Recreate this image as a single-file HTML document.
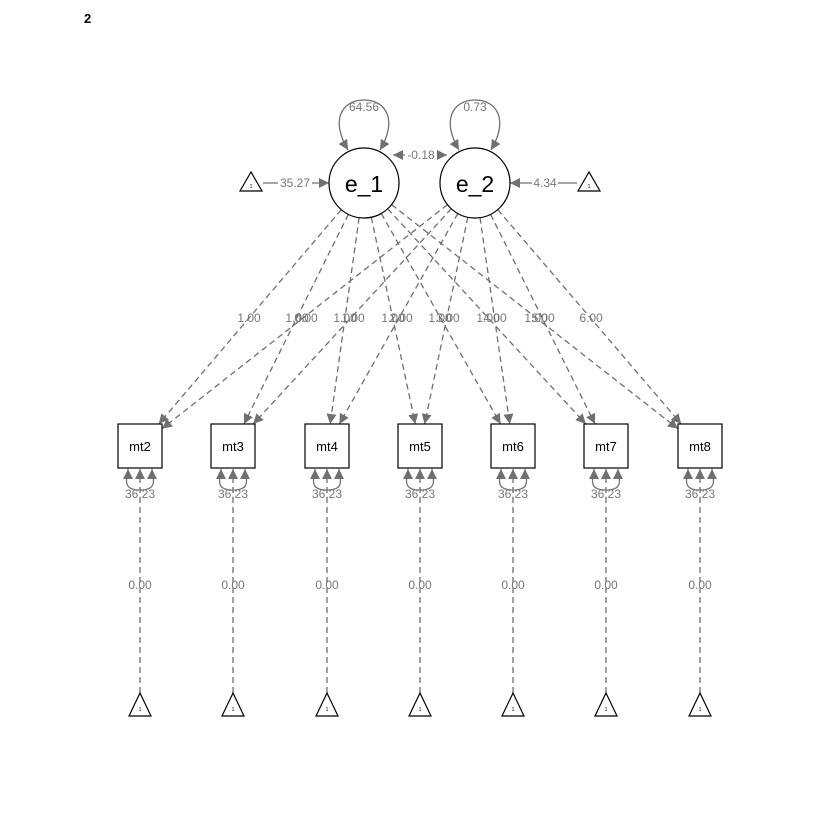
<!DOCTYPE html>
<html><head><meta charset="utf-8"><style>
html,body{margin:0;padding:0;background:#fff;}
svg{display:block;font-family:"Liberation Sans",Arial,sans-serif;}
.lab{font-size:12px;fill:#777;text-anchor:middle;}
</style></head><body>
<svg id="s" width="840" height="840" viewBox="0 0 840 840" xmlns="http://www.w3.org/2000/svg">
<defs>
<marker id="ar" viewBox="0 0 10 10" refX="10" refY="5" markerWidth="10" markerHeight="10" markerUnits="userSpaceOnUse" orient="auto-start-reverse">
<path d="M0,0 L10,5 L0,10 z" fill="#707070"/></marker>
</defs>
<rect width="840" height="840" fill="#fff"/>
<text x="84" y="23" font-size="13" font-weight="bold">2</text>
<g id="lines" stroke="#707070" stroke-width="1.3" fill="none"></g>

<path d="M348,150 C330,120 342,100 364,100 C386,100 398,120 380,150" stroke="#707070" stroke-width="1.3" fill="none" marker-start="url(#ar)" marker-end="url(#ar)"/>
<path d="M459,150 C441,120 453,100 475,100 C497,100 509,120 491,150" stroke="#707070" stroke-width="1.3" fill="none" marker-start="url(#ar)" marker-end="url(#ar)"/>
<text class="lab" x="364" y="111">64.56</text>
<text class="lab" x="475" y="111">0.73</text>
<line x1="393" y1="155" x2="447" y2="155" stroke="#707070" stroke-width="1.3" marker-start="url(#ar)" marker-end="url(#ar)"/>
<rect x="405" y="149" width="32" height="12" fill="#fff"/>
<text class="lab" x="421" y="159">-0.18</text>
<line x1="263" y1="183" x2="329" y2="183" stroke="#707070" stroke-width="1.3" marker-end="url(#ar)"/>
<rect x="278" y="177" width="34" height="12" fill="#fff"/>
<text class="lab" x="295" y="187">35.27</text>
<line x1="577" y1="183" x2="510" y2="183" stroke="#707070" stroke-width="1.3" marker-end="url(#ar)"/>
<rect x="532" y="177" width="26" height="12" fill="#fff"/>
<text class="lab" x="545" y="187">4.34</text>
<polygon points="251,172 240,191 262,191" fill="#fff" stroke="#000" stroke-width="1.2"/>
<text x="251" y="188" font-size="5" text-anchor="middle">1</text>
<polygon points="589,172 578,191 600,191" fill="#fff" stroke="#000" stroke-width="1.2"/>
<text x="589" y="188" font-size="5" text-anchor="middle">1</text>

<circle cx="364" cy="183" r="35" fill="#fff" stroke="#000" stroke-width="1.2"/>
<circle cx="475" cy="183" r="35" fill="#fff" stroke="#000" stroke-width="1.2"/>
<text x="364" y="192" font-size="23" text-anchor="middle">e_1</text>
<text x="475" y="192" font-size="23" text-anchor="middle">e_2</text>

<text class="lab" x="249" y="322">1.00</text>
<text class="lab" x="297" y="322">1.00</text>
<text class="lab" x="345" y="322">1.00</text>
<text class="lab" x="393" y="322">1.00</text>
<text class="lab" x="440" y="322">1.00</text>
<text class="lab" x="488" y="322">1.00</text>
<text class="lab" x="536" y="322">1.00</text>
<text class="lab" x="306" y="322">0.00</text>
<text class="lab" x="353" y="322">1.00</text>
<text class="lab" x="401" y="322">2.00</text>
<text class="lab" x="448" y="322">3.00</text>
<text class="lab" x="495" y="322">4.00</text>
<text class="lab" x="543" y="322">5.00</text>
<text class="lab" x="591" y="322">6.00</text>

<g id="boxes"></g>
<g font-size="13" text-anchor="middle">
<text x="140" y="451">mt2</text><text x="233" y="451">mt3</text><text x="327" y="451">mt4</text><text x="420" y="451">mt5</text><text x="513" y="451">mt6</text><text x="606" y="451">mt7</text><text x="700" y="451">mt8</text>
</g>
<g>
<text class="lab" x="140" y="498">36.23</text><text class="lab" x="233" y="498">36.23</text><text class="lab" x="327" y="498">36.23</text><text class="lab" x="420" y="498">36.23</text><text class="lab" x="513" y="498">36.23</text><text class="lab" x="606" y="498">36.23</text><text class="lab" x="700" y="498">36.23</text>
<text class="lab" x="140" y="589">0.00</text><text class="lab" x="233" y="589">0.00</text><text class="lab" x="327" y="589">0.00</text><text class="lab" x="420" y="589">0.00</text><text class="lab" x="513" y="589">0.00</text><text class="lab" x="606" y="589">0.00</text><text class="lab" x="700" y="589">0.00</text>
</g>
<g font-size="5" text-anchor="middle">
<text x="140" y="711">1</text><text x="233" y="711">1</text><text x="327" y="711">1</text><text x="420" y="711">1</text><text x="513" y="711">1</text><text x="606" y="711">1</text><text x="700" y="711">1</text>
</g>
</svg>
<script>
(function(){
var NS="http://www.w3.org/2000/svg";
var L=document.getElementById('lines'),B=document.getElementById('boxes');
var xs=[140,233,327,420,513,606,700],by=446,h=22;
var lat=[[364,183],[475,183]],r=35;
function mk(tag,a,p){var e=document.createElementNS(NS,tag);for(var k in a)e.setAttribute(k,a[k]);(p||L).appendChild(e);return e;}
lat.forEach(function(c){
 xs.forEach(function(bx){
  var dx=bx-c[0],dy=by-c[1],d=Math.sqrt(dx*dx+dy*dy);
  var sx=c[0]+dx/d*r,sy=c[1]+dy/d*r;
  var t=Math.min(h/Math.abs(dy),dx===0?1e9:h/Math.abs(dx));
  var ex=bx-dx*t,ey=by-dy*t;
  mk('line',{x1:sx,y1:sy,x2:ex,y2:ey,'stroke-dasharray':'6,4','marker-end':'url(#ar)'});
 });
});
xs.forEach(function(x){
 mk('line',{x1:x,y1:693,x2:x,y2:469,'stroke-dasharray':'6,4','marker-end':'url(#ar)'});
 mk('path',{d:'M'+(x-12)+',469 C'+(x-12)+',476 '+(x-20)+',490 '+x+',490 C'+(x+20)+',490 '+(x+12)+',476 '+(x+12)+',469','marker-start':'url(#ar)','marker-end':'url(#ar)'});
 mk('rect',{x:x-22,y:424,width:44,height:44,fill:'#fff',stroke:'#000','stroke-width':1.2},B);
 mk('polygon',{points:x+',693 '+(x-11)+',716 '+(x+11)+',716',fill:'#fff',stroke:'#000','stroke-width':1.2},B);
});
})();
</script>
</body></html>
